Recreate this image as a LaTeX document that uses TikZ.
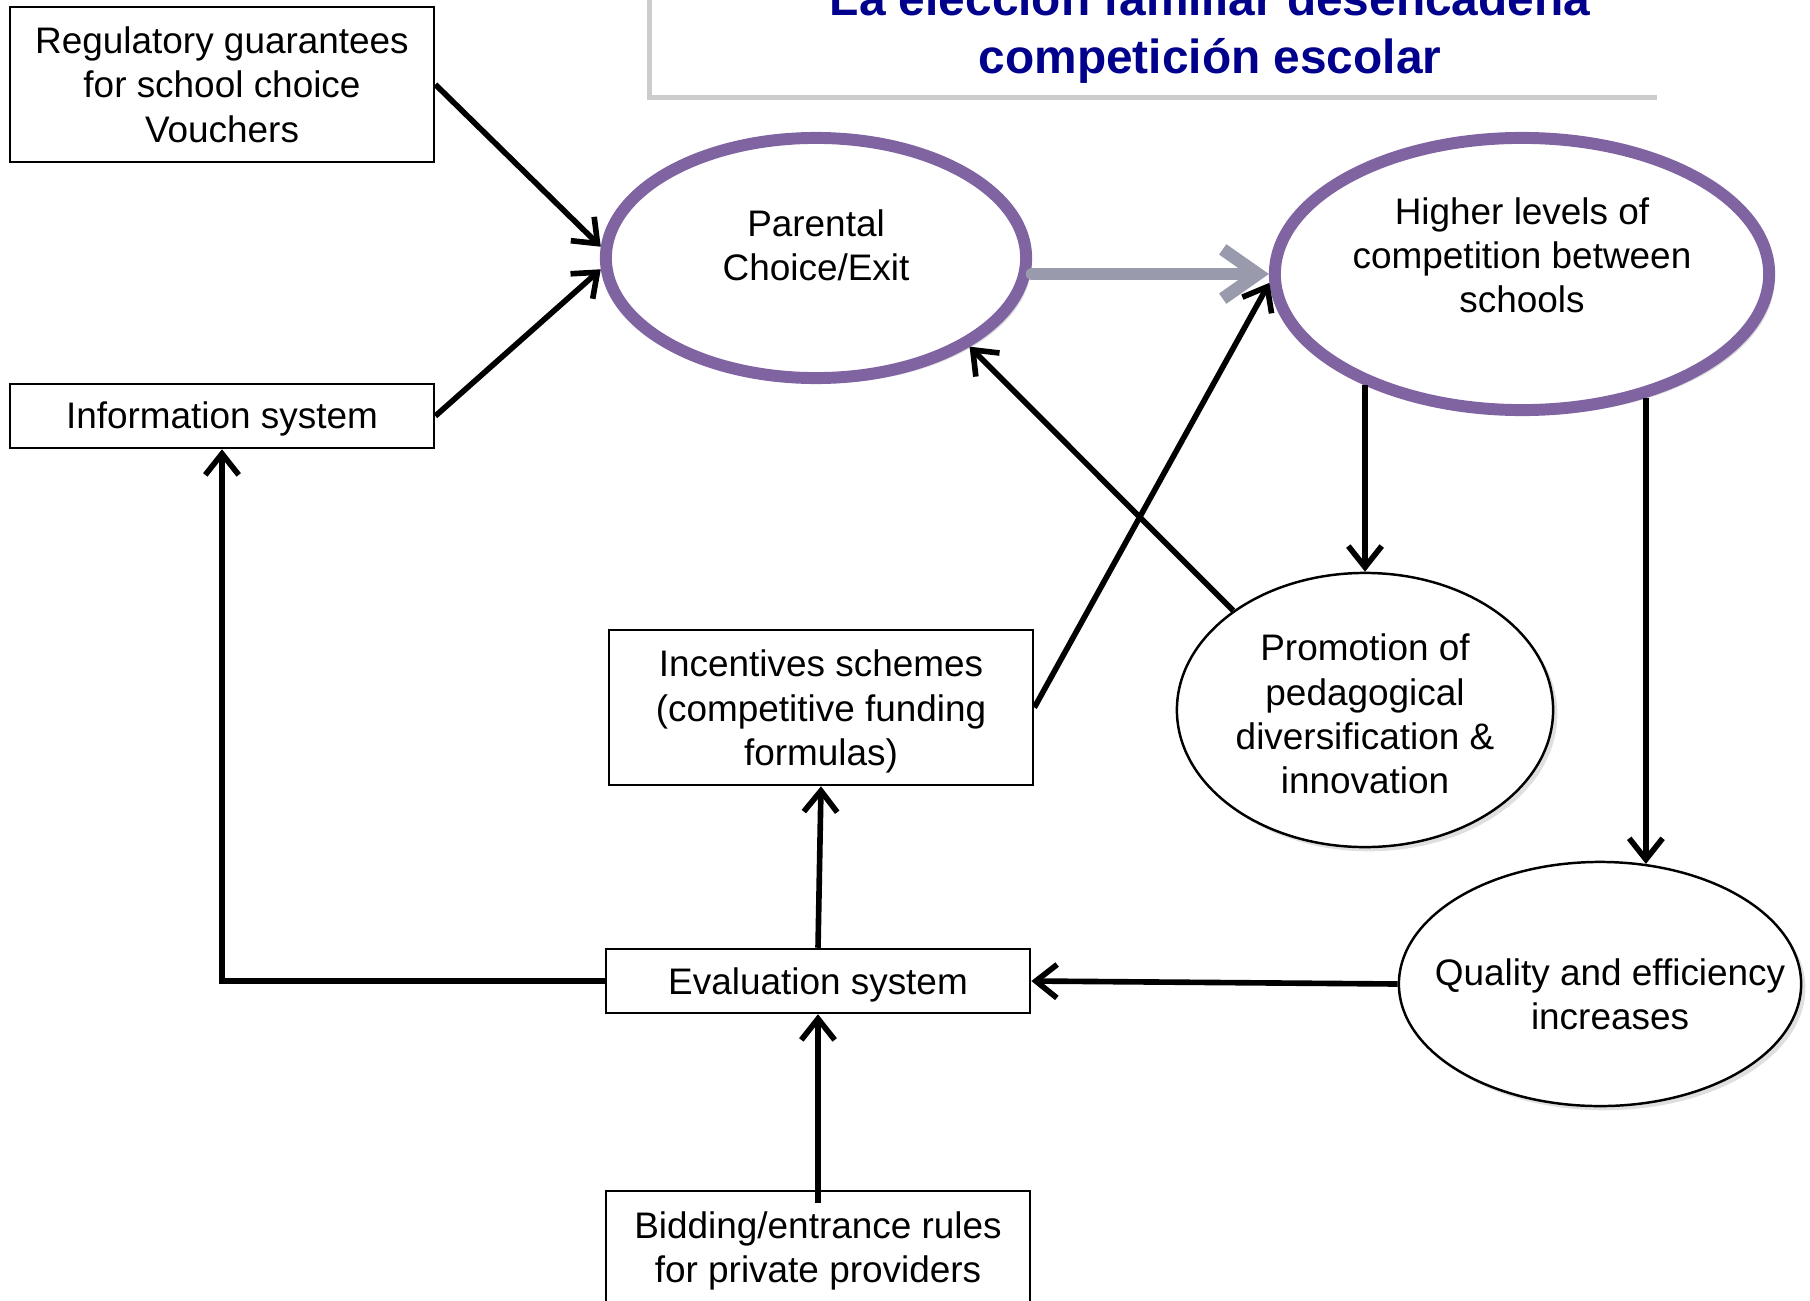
\documentclass[tikz,border=0pt]{standalone}
\usepackage{fontspec}
\setmainfont{Liberation Sans}
\usetikzlibrary{shapes.geometric,arrows.meta,shadows}
\definecolor{ellpurple}{RGB}{128,100,162}
\definecolor{arrowgray}{RGB}{153,155,173}
\definecolor{titleblue}{RGB}{0,0,140}
\newcommand\diagfont{\fontsize{10.5pt}{12.6pt}\selectfont}
\newcommand\titlefont{\fontsize{13.6pt}{16.5pt}\selectfont\bfseries}
\newcommand\etext[3]{\smash{\makebox[0pt]{\hspace*{#1}\hspace*{#1}\raisebox{#2}{\begin{tabular}{@{}c@{}}#3\end{tabular}}}}}
\begin{document}
\begin{tikzpicture}[x=0.01cm,y=-0.01cm,
  rbox/.style={draw, line width=0.7pt, fill=white, inner sep=0pt, font=\diagfont, minimum width=4.24cm},
  pell/.style={ellipse, draw=ellpurple, line width=3.4pt, fill=white, inner sep=0pt, font=\diagfont,
     drop shadow={shadow xshift=1.5pt, shadow yshift=-1.5pt, opacity=0.3}},
  tell/.style={ellipse, draw, line width=0.7pt, fill=white, inner sep=0pt, font=\diagfont,
     drop shadow={shadow xshift=1.2pt, shadow yshift=-1.2pt, opacity=0.25}},
  arr/.style={line width=1.6pt, -{Straight Barb[length=6pt,width=9.5pt]}},
  garr/.style={draw=arrowgray, line width=3.6pt, line cap=round, -{Straight Barb[length=10pt,width=14pt]}}
]
\useasboundingbox (0,0) rectangle (1810,1300);

% title panel
\fill[white, drop shadow={shadow xshift=-1.5pt, shadow yshift=-1.3pt, opacity=0.4}] (652,-60) rectangle (1662,95);
\node[font=\titlefont, text=titleblue, align=center, anchor=south, inner sep=0pt] (title) at (1210,84)
  {La elección familiar desencadena\\competición escolar};

% ellipses
\node[pell, minimum width=4.2cm, minimum height=2.4cm] (par) at (816,258)
  {\etext{0pt}{-0.3pt}{Parental\\Choice/Exit}};
\node[pell, minimum width=4.94cm, minimum height=2.72cm] (hi) at (1522,274)
  {\etext{0pt}{1.4pt}{Higher levels of\\competition between\\schools}};
\node[tell, minimum width=3.76cm, minimum height=2.74cm] (prom) at (1365,710)
  {\etext{0pt}{-5.1pt}{Promotion of\\pedagogical\\diversification \&\\innovation}};
\node[tell, minimum width=4.02cm, minimum height=2.44cm] (q) at (1600,984)
  {\etext{0.1cm}{-6.8pt}{Quality and efficiency\\increases}};

% boxes
\node[rbox, minimum height=1.55cm] (reg) at (222,84.5)
  {\etext{0pt}{-4pt}{Regulatory guarantees\\for school choice\\Vouchers}};
\node[rbox, minimum height=0.64cm] (info) at (222,416)
  {\etext{0pt}{-3.8pt}{Information system}};
\node[rbox, minimum height=1.55cm] (inc) at (821,707.5)
  {\etext{0pt}{-4.1pt}{Incentives schemes\\(competitive funding\\formulas)}};
\node[rbox, minimum height=0.64cm] (ev) at (818,981)
  {\etext{0pt}{-4pt}{Evaluation system}};
\node[rbox, minimum height=1.12cm] (bid) at (818,1247)
  {\etext{0pt}{-4pt}{Bidding/entrance rules\\for private providers}};

% connectors
\draw[garr] (par.east |- hi.west) -- (hi.west);
\draw[arr] (reg.east) -- (par.177);
\draw[arr] (info.east) -- (par.183);
\draw[arr] (prom.143) -- (par.-30);
\draw[arr] (inc.east) -- (hi.182);
\draw[arr] (prom.north |- hi.215) -- (prom.north);
\draw[arr] (hi.-45) -- (hi.-45 |- q.69);
\draw[arr] (q.west) -- (ev.east);
\draw[arr] (ev.north) -- (inc.south);
\draw[arr] ([yshift=-0.13cm]bid.north) -- (ev.south);
\draw[arr] (ev.west) -| (info.south);
\end{tikzpicture}
\end{document}
